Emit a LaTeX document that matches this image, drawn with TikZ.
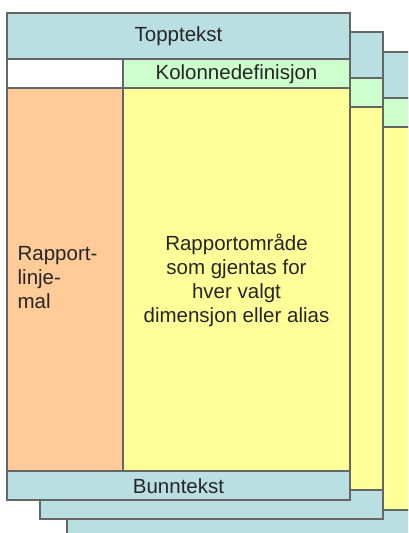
\documentclass[tikz,border=0pt]{standalone}
\usepackage{fontspec}
\setmainfont{Liberation Sans}
\usepackage{xcolor}
\usepackage{tikz}
\usetikzlibrary{positioning}
\definecolor{headblue}{HTML}{BADFE3}
\definecolor{colgreen}{HTML}{CCFFCC}
\definecolor{areayellow}{HTML}{FFFF99}
\definecolor{rowpeach}{HTML}{FFCC99}
\definecolor{edge}{HTML}{666666}

\begin{document}
\begin{tikzpicture}[x=1pt,y=-1pt,line width=1.3pt,
  cell/.style={draw=edge},
  label/.style={text=black!85,font=\fontsize{20.5}{24}\selectfont,inner sep=0pt}]
  \useasboundingbox (0,0) rectangle (408,533);
  \clip (0,0) rectangle (408,533);
  % pages, back to front
  \foreach \dx/\dy in {60/39, 33/19, 0/0} {
    \begin{scope}[shift={(\dx,\dy)}]
      \filldraw[cell,fill=headblue] (7,13) rectangle (350,59);
      \filldraw[cell,fill=white] (7,59) rectangle (123,88);
      \filldraw[cell,fill=colgreen] (123,59) rectangle (350,88);
      \filldraw[cell,fill=rowpeach] (7,88) rectangle (123,471);
      \filldraw[cell,fill=areayellow] (123,88) rectangle (350,471);
      \filldraw[cell,fill=headblue] (7,471) rectangle (350,500);
    \end{scope}
  }
  % labels of the front page
  \node[label] (head) at (178.5,36) {Topptekst};
  \node[label] (coldef) at (236.5,74) {Kolonnedefinisjon};
  \node[label,align=left,anchor=west] (rowtmpl) at (17,278) {Rapport-\\linje-\\mal};
  \node[label,align=center] (area) at (236.5,280) {Rapportområde\\som gjentas for\\hver valgt\\dimensjon eller alias};
  \node[label] (foot) at (178.5,486) {Bunntekst};
\end{tikzpicture}
\end{document}
